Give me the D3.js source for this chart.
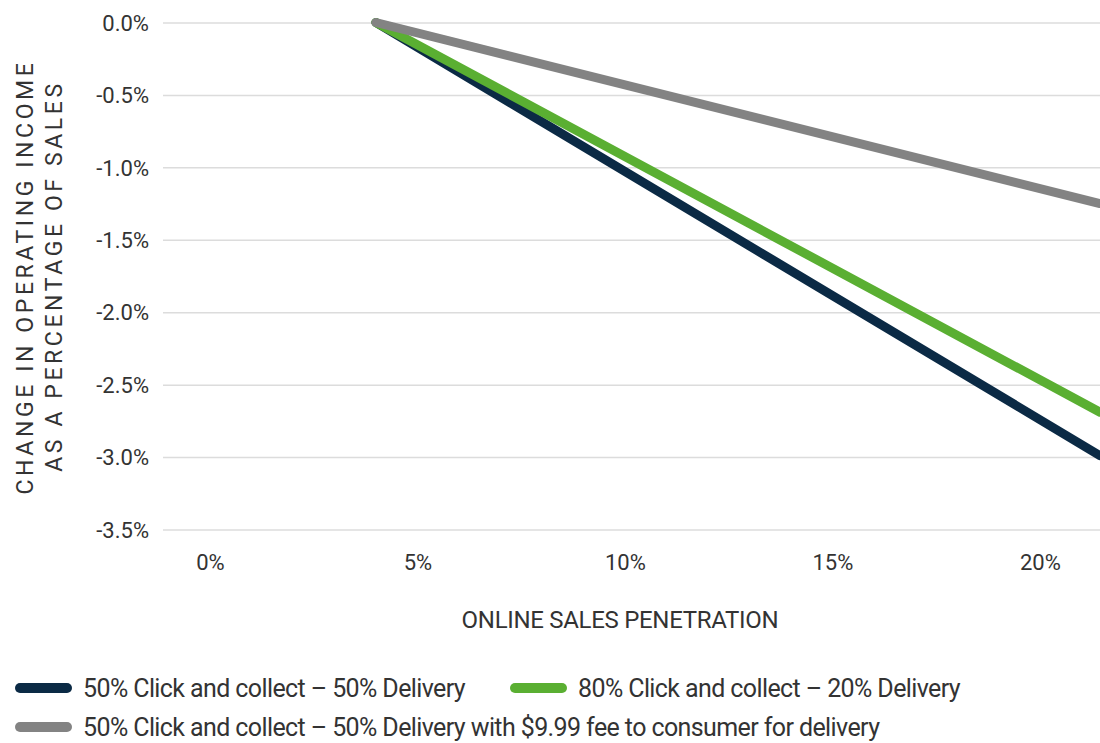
<!DOCTYPE html>
<html><head><meta charset="utf-8">
<script src="https://cdn.jsdelivr.net/npm/d3@7"></script>
<style>
body{margin:0;background:#fff;}
text{font-family:Roboto,"Noto Sans",sans-serif;fill:#333;}
</style></head>
<body><svg id="chart" width="1100" height="743"></svg>
<script>
const xTicks = [0, 5, 10, 15, 20];
const yTicks = [0, -0.5, -1.0, -1.5, -2.0, -2.5, -3.0, -3.5];
const penetration = [4, 21.45];
const seriesNames = [
  "50% Click and collect \u2013 50% Delivery",
  "80% Click and collect \u2013 20% Delivery",
  "50% Click and collect \u2013 50% Delivery with $9.99 fee to consumer for delivery"
];
const darkValues = [0, -2.99];
const greenValues = [0, -2.69];
const grayValues = [0, -1.25];
const colors = ["#0b2a45", "#5aaf32", "#838383"];

const svg = d3.select("#chart");
const x = d3.scaleLinear().domain([-1.13, 21.45]).range([163, 1100]);
const y = d3.scaleLinear().domain([-3.5, 0]).range([529.5, 22.5]);

// gridlines
const gridAxis = d3.axisLeft(y).tickValues(yTicks).tickSize(-(1100 - 163)).tickFormat("");
const g = svg.append("g").attr("transform", "translate(163,0)").call(gridAxis);
g.select(".domain").remove();
g.selectAll(".tick line").attr("stroke", "#dcdcdc").attr("stroke-width", 1.5);

// y tick labels
const yAx = svg.append("g").attr("transform", "translate(149,0)")
  .call(d3.axisLeft(y).tickValues(yTicks).tickSize(0).tickPadding(0).tickFormat(d => d3.format(".1f")(d).replace("−","-") + "%"));
yAx.select(".domain").remove();
yAx.selectAll("text").style("font-size", "22px").attr("dy", "0.35em").attr("fill", "#333").style("letter-spacing", "0px");

// x tick labels
const xAx = svg.append("g").attr("transform", "translate(0,562)")
  .call(d3.axisBottom(x).tickValues(xTicks).tickSize(0).tickPadding(0).tickFormat(d => d + "%"));
xAx.select(".domain").remove();
xAx.selectAll("text").style("font-size", "22px").attr("dy", "0.35em").attr("fill", "#333").style("letter-spacing", "0px");

// lines
svg.append("defs").append("clipPath").attr("id", "clip")
  .append("rect").attr("x", 163).attr("y", 0).attr("width", 1100 - 163).attr("height", 743);
const line = d3.line().x((d, i) => x(penetration[i])).y(d => y(d));
const allSeries = [darkValues, greenValues, grayValues];
svg.append("g").attr("clip-path", "url(#clip)")
  .selectAll("path").data(allSeries).join("path")
  .attr("d", line).attr("fill", "none")
  .attr("stroke", (d, i) => colors[i]).attr("stroke-width", 9)
  .attr("stroke-linecap", "round");

// axis titles
svg.append("text").attr("x", 620).attr("y", 628).attr("text-anchor", "middle")
  .style("font-size", "24px").style("letter-spacing", "-0.3px").text("ONLINE SALES PENETRATION");
svg.append("text").attr("transform", "translate(33,277) rotate(-90)").attr("text-anchor", "middle")
  .style("font-size", "23px").style("letter-spacing", "3.6px").text("CHANGE IN OPERATING INCOME");
svg.append("text").attr("transform", "translate(62,276) rotate(-90)").attr("text-anchor", "middle")
  .style("font-size", "23px").style("letter-spacing", "3.6px").text("AS A PERCENTAGE OF SALES");

// legend
const legendPos = [{sx: 20, tx: 83, y: 688}, {sx: 515, tx: 578, y: 688}, {sx: 20, tx: 83, y: 727}];
const lg = svg.append("g").selectAll("g").data(seriesNames).join("g");
lg.append("line")
  .attr("x1", (d, i) => legendPos[i].sx).attr("x2", (d, i) => legendPos[i].sx + 47)
  .attr("y1", (d, i) => legendPos[i].y).attr("y2", (d, i) => legendPos[i].y)
  .attr("stroke", (d, i) => colors[i]).attr("stroke-width", 10).attr("stroke-linecap", "round");
lg.append("text")
  .attr("x", (d, i) => legendPos[i].tx).attr("y", (d, i) => legendPos[i].y).attr("dy", "0.35em")
  .style("font-size", "25px").style("letter-spacing", "-0.6px").text(d => d);
</script></body></html>
